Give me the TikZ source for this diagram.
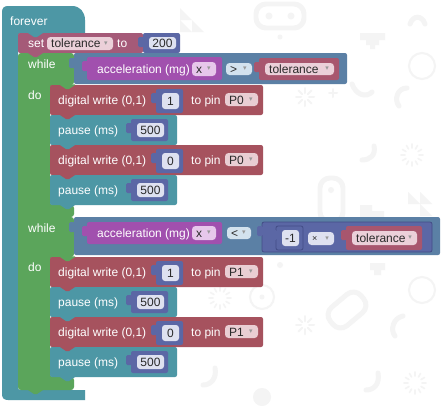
\documentclass[tikz,border=0pt]{standalone}
\usepackage{fontspec}
\setmainfont{Liberation Sans}
\newfontfamily\dvfont{DejaVu Sans}
\definecolor{tealc}{HTML}{4D97A5}
\definecolor{setc}{HTML}{A55A78}
\definecolor{dwc}{HTML}{A6525E}
\definecolor{greenc}{HTML}{5BA55B}
\definecolor{condc}{HTML}{5B80A5}
\definecolor{purc}{HTML}{A150AE}
\definecolor{numc}{HTML}{5B67A5}
\definecolor{numdk}{HTML}{434D86}
\definecolor{varc}{HTML}{A8566E}
\definecolor{pinkf}{HTML}{EBD0D9}
\definecolor{dwf}{HTML}{E9CED3}
\definecolor{purf}{HTML}{E7C7EB}
\definecolor{bluef}{HTML}{D3E2EE}
\definecolor{numf}{HTML}{DEE1F0}
\definecolor{ftxt}{HTML}{2A2A2A}
\definecolor{bgic}{HTML}{F4F4F4}
\newcommand\bump[3]{\fill[#1] (#2+10,#3-0.6) -- (#2+10,#3) -- (#2+16,#3+4) -- (#2+19,#3+4) -- (#2+25,#3) -- (#2+25,#3-0.6) -- cycle;}
\newcommand\tabl[4]{\fill[#1,rounded corners=1.5] (#2-5,#3) rectangle (#2+1,#4);}
\newcommand\numb[6]{%
  \fill[numc,rounded corners=2] (#1,#2) rectangle (#3,#4);
  \tabl{numc}{#1}{#2+4}{#2+14}
  \fill[numf,rounded corners=3] (#1+6,#2+4) rectangle (#3-4,#4-4);
  \node[fldtxt,anchor=base] (#6) at ({(#1+#3+2)/2},{(#2+#4)/2+4}) {#5};}
\newcommand\tolb[5]{%
  \fill[varc,rounded corners=2] (#1,#2) rectangle (#3,#4);
  \tabl{varc}{#1}{#2+4}{#2+14}
  \fill[pinkf,rounded corners=3.5] (#1+6,#2+5) rectangle (#3-5,#4-5);
  \node[fldtxt] (#5) at (#1+10,{(#2+#4)/2+4}) {tolerance};
  \node[arr] (#5a) at (#3-12,{(#2+#4)/2}) {▾};}
\newcommand\dwb[4]{%
  \fill[dwc,rounded corners=2] (50,#1) rectangle (263,#1+30);
  \node[lbl] (#4a) at (58,#1+19) {digital write (0,1)};
  \numb{156}{#1+4}{183}{#1+28}{#2}{#4n}
  \node[lbl] (#4b) at (191,#1+19) {to pin};
  \fill[dwf,rounded corners=3.5] (225,#1+8) rectangle (258,#1+21);
  \node[fldtxt] (#4c) at (229,#1+19) {#3};
  \node[arr] (#4d) at (251,#1+14.5) {▾};}
\newcommand\paub[2]{%
  \fill[tealc,rounded corners=2] (50,#1) rectangle (177,#1+30);
  \node[lbl] (#2a) at (58,#1+19) {pause (ms)};
  \numb{131}{#1+4}{168}{#1+26}{500}{#2n}}
\newcommand\burst[2]{\foreach \a in {0,45,...,315} {\draw[bgi,line width=2] ({#1+4*cos(\a)},{#2+4*sin(\a)}) -- ({#1+9*cos(\a)},{#2+9*sin(\a)});}}
\newcommand\spin[2]{\foreach \a in {0,30,...,330} {\draw[bgi,line width=1.6] ({#1+7*cos(\a)},{#2+7*sin(\a)}) -- ({#1+11*cos(\a)},{#2+11*sin(\a)});}}
\begin{document}
\begin{tikzpicture}[x=1bp,y=-1bp,
  lbl/.style={text=white,anchor=base west,inner sep=0,font=\fontsize{12bp}{14bp}\selectfont},
  fldtxt/.style={text=ftxt,anchor=base west,inner sep=0,font=\fontsize{12bp}{14bp}\selectfont},
  arr/.style={text=black!40,inner sep=0,font=\dvfont\fontsize{7bp}{8bp}\selectfont},
  bgi/.style={draw=bgic,line width=5,line cap=round}]
\useasboundingbox (0,0) rectangle (445,406);
\fill[white] (0,0) rectangle (445,406);
% faint background icons
\draw[bgi,rounded corners=10] (256,4) rectangle (304,28);
\fill[bgic] (269,16) circle (3.5) (291,16) circle (3.5) (280,37) circle (2.5);
\fill[bgic] (180,8) -- (192,20) -- (180,20) -- cycle (180,20) -- (192,32) -- (180,32) -- cycle (192,20) -- (204,32) -- (192,32) -- cycle;
\fill[bgic] (360,33) rectangle (385,40) (366,40) rectangle (379,45) (370,45) rectangle (375,49);
\draw[bgi] (410,24) .. controls (413,15) and (422,15) .. (425,24);
\draw[bgi,line width=2] (422,66) circle (13);
\burst{305}{97}
\draw[bgi,line width=2] (329,93) -- (337,93) (333,89) -- (333,97);
\draw[bgi] (352,84) .. controls (356,95) and (366,98) .. (372,92);
\draw[bgi] (407,88) .. controls (397,88) and (394,100) .. (399,106);
\draw[bgi] (374,146) .. controls (376,155) and (370,160) .. (362,160);
\spin{412}{155}
\draw[bgi,rounded corners=10] (320,178) rectangle (343,222);
\fill[bgic] (331,190) circle (3);
\fill[bgic] (408,192) -- (420,204) -- (408,204) -- cycle (420,192) -- (432,204) -- (420,204) -- cycle (420,204) -- (432,216) -- (420,216) -- cycle;
\fill[bgic] (360,205) rectangle (372,217) (372,211) rectangle (384,217);
\spin{220}{298}
\draw[bgi,line width=2] (262,297) circle (12);
\fill[bgic] (262,297) circle (2.5);
\draw[bgi,rotate around={-50:(347,310)},rounded corners=10] (335,290) rectangle (359,330);
\draw[bgi,line width=2] (422,290) circle (13);
\fill[bgic] (370,263) rectangle (385,270) (374,270) rectangle (381,275);
\fill[bgic] (280,265) circle (3);
\draw[bgi] (403,316) .. controls (393,318) and (390,330) .. (395,336);
\burst{305}{325}
\draw[bgi] (215,368) .. controls (217,378) and (211,385) .. (203,385);
\draw[bgi] (378,373) .. controls (380,384) and (374,390) .. (366,390);
\spin{415}{383}
\fill[bgic] (262,397) circle (9);
% forever
\fill[tealc] (2,394) -- (2,12) .. controls (2,8) and (4,6) .. (8,6) -- (72,6) .. controls (80,6) and (85,12) .. (85,20) -- (85,33) -- (21,33) .. controls (19,33) and (18,34) .. (18,36) -- (18,387) .. controls (18,389) and (19,390) .. (21,390) -- (85,390) -- (85,400) -- (8,400) .. controls (4,400) and (2,398) .. (2,394) -- cycle;
\node[lbl] (forever) at (10,25) {forever};
% set
\fill[setc,rounded corners=2] (18,33) rectangle (143,53);
\node[lbl] (set) at (28,47) {set};
\fill[pinkf,rounded corners=3.5] (47,37) rectangle (113,50);
\node[fldtxt] (setvar) at (51,47.5) {tolerance};
\node[arr] (setarr) at (106,43.5) {▾};
\node[lbl] (to) at (117,47) {to};
\numb{143}{33}{180}{53}{200}{n200}
% while blocks
\fill[greenc,rounded corners=3] (18,53) -- (74,53) -- (74,85) -- (50,85) -- (50,205) -- (74,205) -- (74,217) -- (18,217) -- cycle;
\fill[greenc,rounded corners=3] (18,217) -- (74,217) -- (74,257) -- (50,257) -- (50,377) -- (74,377) -- (74,390) -- (18,390) -- cycle;
\fill[greenc] (18,210) rectangle (30,224);
\node[lbl] (while1) at (28,68) {while};
\node[lbl] (do1) at (28,99) {do};
\node[lbl] (while2) at (28,232) {while};
\node[lbl] (do2) at (28,271) {do};
% condition 1
\fill[condc,rounded corners=2] (74,53) rectangle (347,84);
\tabl{condc}{74}{58}{68}
\fill[purc,rounded corners=2] (87,57) rectangle (222,80);
\tabl{purc}{87}{61}{71}
\node[lbl] (acc1) at (97,73) {acceleration (mg)};
\fill[purf,rounded corners=3.5] (192,62) rectangle (216,76);
\node[fldtxt] (acc1x) at (196,73) {x};
\node[arr] (acc1xa) at (209,69) {▾};
\fill[bluef,rounded corners=3.5] (226,63) rectangle (252,75);
\node[fldtxt] (gt) at (230,73.5) {>};
\node[arr] (gta) at (245,69) {▾};
\tolb{259}{58}{339}{80}{tol1}
% condition 2
\fill[condc,rounded corners=2] (74,217) rectangle (440,255);
\tabl{condc}{74}{222}{232}
\fill[purc,rounded corners=2] (87,222) rectangle (222,244);
\tabl{purc}{87}{226}{236}
\node[lbl] (acc2) at (97,237) {acceleration (mg)};
\fill[purf,rounded corners=3.5] (192,226) rectangle (216,240);
\node[fldtxt] (acc2x) at (196,237) {x};
\node[arr] (acc2xa) at (209,233) {▾};
\fill[bluef,rounded corners=3.5] (227,227) rectangle (251,239);
\node[fldtxt] (lt) at (231,237.5) {<};
\node[arr] (lta) at (244,233) {▾};
\fill[numc,draw=numdk,line width=0.8,rounded corners=2] (262,222) rectangle (432,252);
\tabl{numc}{262}{226}{236}
\fill[numc,draw=numdk,line width=0.8,rounded corners=2] (276,226) rectangle (303,250);
\tabl{numc}{276}{230}{240}
\fill[numf,rounded corners=3] (282,230) rectangle (299,246);
\node[fldtxt,anchor=base] (m1) at (290.5,242) {-1};
\fill[numf,rounded corners=3.5] (308,232) rectangle (334,245);
\node[fldtxt,font=\fontsize{9bp}{10bp}\selectfont] (times) at (312,241.5) {×};
\node[arr] (timesa) at (327,238.5) {▾};
\tolb{346}{226}{422}{250}{tol2}
% body 1
\dwb{85}{1}{P0}{dwA}
\paub{115}{pA}
\dwb{145}{0}{P0}{dwB}
\paub{175}{pB}
% body 2
\dwb{257}{1}{P1}{dwC}
\paub{287}{pC}
\dwb{317}{0}{P1}{dwD}
\paub{347}{pD}
% notches
\bump{tealc}{18}{33}
\bump{setc}{18}{53}
\bump{greenc}{50}{85}
\bump{dwc}{50}{115}
\bump{tealc}{50}{145}
\bump{dwc}{50}{175}
\bump{tealc}{50}{205}
\bump{greenc}{50}{257}
\bump{dwc}{50}{287}
\bump{tealc}{50}{317}
\bump{dwc}{50}{347}
\bump{tealc}{50}{377}
\bump{greenc}{18}{390}
\end{tikzpicture}
\end{document}
